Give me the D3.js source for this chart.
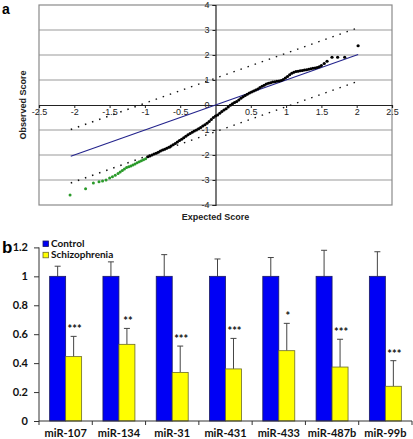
<!DOCTYPE html>
<html><head><meta charset="utf-8">
<script src="https://cdn.jsdelivr.net/npm/d3@7"></script>
<style>html,body{margin:0;padding:0;background:#fff;}svg{display:block;}</style>
</head><body>
<script>
// ---------- Panel a data (Q-Q plot) ----------
const qqGreenX = [-2.06,-1.84,-1.73,-1.65,-1.60,-1.55,-1.50,-1.46,-1.42,-1.38,-1.35,-1.32,-1.29,-1.26,-1.23,-1.20,-1.17,-1.14,-1.11,-1.08,-1.05,-1.02,-0.99];
const qqGreenY = [-3.60,-3.35,-3.12,-3.07,-3.04,-3.00,-2.92,-2.87,-2.81,-2.74,-2.68,-2.62,-2.56,-2.50,-2.47,-2.44,-2.40,-2.36,-2.31,-2.27,-2.23,-2.19,-2.15];
const qqBlackX = [-0.96,-0.93,-0.90,-0.87,-0.84,-0.81,-0.78,-0.75,-0.72,-0.69,-0.66,-0.63,-0.60,-0.57,-0.54,-0.51,-0.48,-0.45,-0.42,-0.39,-0.36,-0.33,-0.30,-0.27,-0.24,-0.21,-0.18,-0.15,-0.12,-0.09,-0.06,-0.03,0.00,0.03,0.06,0.09,0.12,0.15,0.18,0.21,0.24,0.27,0.30,0.33,0.36,0.39,0.42,0.45,0.48,0.51,0.54,0.57,0.60,0.63,0.66,0.69,0.72,0.75,0.78,0.81,0.84,0.87,0.90,0.93,0.96,0.99,1.02,1.05,1.08,1.11,1.14,1.17,1.20,1.23,1.26,1.29,1.32,1.35,1.38,1.41,1.44,1.47,1.50,1.54,1.58,1.65,1.73,1.83,2.02];
const qqBlackY = [-2.07,-2.04,-2.00,-1.96,-1.93,-1.89,-1.84,-1.80,-1.77,-1.73,-1.69,-1.64,-1.59,-1.54,-1.48,-1.42,-1.37,-1.31,-1.25,-1.19,-1.14,-1.09,-1.04,-1.00,-0.95,-0.90,-0.84,-0.79,-0.73,-0.66,-0.58,-0.50,-0.44,-0.40,-0.33,-0.26,-0.20,-0.15,-0.08,-0.01,0.05,0.10,0.14,0.20,0.27,0.33,0.38,0.43,0.48,0.52,0.56,0.60,0.64,0.70,0.75,0.79,0.84,0.87,0.89,0.92,0.93,0.95,0.96,0.98,1.02,1.08,1.14,1.21,1.27,1.31,1.34,1.35,1.37,1.38,1.40,1.41,1.43,1.45,1.47,1.48,1.50,1.53,1.58,1.66,1.75,1.91,1.91,1.91,2.37];
const refLineX = [-2.05, 2.02];          // identity line endpoints
const bandOffset = 1.07;                 // dotted confidence lines y = x ± offset
const bandX = [-2.05, 2.0];
const xTicksA = [-2.5,-2,-1.5,-1,-0.5,0.5,1,1.5,2,2.5];
const xTickLabelsA = ["-2.5","-2","-1.5","-1","-0.5","0.5","1","1.5","2","2.5"];
const yTicksA = [4,3,2,1,0,-1,-2,-3,-4];
const yTickLabelsA = ["4","3","2","1","0","-1","-2","-3","-4"];

// ---------- Panel b data ----------
const categories = ["miR-107","miR-134","miR-31","miR-431","miR-433","miR-487b","miR-99b"];
const seriesNames = ["Control","Schizophrenia"];
const controlVals = [1,1,1,1,1,1,1];
const controlErrTop = [1.07,1.10,1.15,1.12,1.13,1.18,1.17];
const schizVals = [0.445,0.53,0.336,0.36,0.486,0.373,0.24];
const schizErrTop = [0.585,0.64,0.518,0.571,0.675,0.565,0.417];
const sigLabels = ["***","**","***","***","*","***","***"];
const yTicksB = [0,0.2,0.4,0.6,0.8,1,1.2];
const yTickLabelsB = ["0","0.2","0.4","0.6","0.8","1","1.2"];

const W = 413, H = 439;
const svg = d3.select("body").append("svg").attr("width", W).attr("height", H);

// ================= Panel a =================
const fa = "'Liberation Sans', Arial, sans-serif";
const xA = d3.scaleLinear().domain([-2.5,2.5]).range([39,392]);
const yA = d3.scaleLinear().domain([-4,4]).range([205,5]);
const ga = svg.append("g");

// gridlines
ga.selectAll("line.grid").data(yTicksA.filter(v=>v!==0 && Math.abs(v)!==4)).enter().append("line")
  .attr("x1", xA(-2.5)).attr("x2", xA(2.5))
  .attr("y1", d=>yA(d)).attr("y2", d=>yA(d))
  .attr("stroke", "#9a9a9a").attr("stroke-width", 1.2);
// frame
ga.append("rect").attr("x", xA(-2.5)).attr("y", yA(4))
  .attr("width", xA(2.5)-xA(-2.5)).attr("height", yA(-4)-yA(4))
  .attr("fill","none").attr("stroke","#8a8a8a").attr("stroke-width",1.2);

// axes through origin
const axX = ga.append("g").attr("transform", `translate(0,${yA(0)})`)
  .call(d3.axisBottom(xA).tickValues(xTicksA).tickSize(3).tickFormat((d,i)=>xTickLabelsA[i]));
axX.select(".domain").attr("stroke","#222").attr("stroke-width",1.2);
axX.selectAll(".tick line").attr("stroke","#222");
axX.selectAll("text").attr("font-family", fa).attr("font-size", 9).attr("fill","#222").attr("dy","0.4em");

const axY = ga.append("g").attr("transform", `translate(${xA(0)},0)`)
  .call(d3.axisLeft(yA).tickValues(yTicksA).tickSize(3).tickFormat((d,i)=>yTickLabelsA[i]));
axY.select(".domain").attr("stroke","#222").attr("stroke-width",1.2);
axY.selectAll(".tick line").attr("stroke","#222");
axY.selectAll("text").attr("font-family", fa).attr("font-size", 9).attr("fill","#222");

// dotted band lines
[bandOffset, -bandOffset].forEach(off=>{
  ga.append("line")
    .attr("x1", xA(bandX[0])).attr("y1", yA(bandX[0]+off))
    .attr("x2", xA(bandX[1])).attr("y2", yA(bandX[1]+off))
    .attr("stroke","#111").attr("stroke-width",1.4).attr("stroke-dasharray","1.5,6");
});
// identity line
ga.append("line")
  .attr("x1", xA(refLineX[0])).attr("y1", yA(refLineX[0]))
  .attr("x2", xA(refLineX[1])).attr("y2", yA(refLineX[1]))
  .attr("stroke","#23238c").attr("stroke-width",1.1);

// points
ga.selectAll("circle.g").data(qqGreenX.map((x,i)=>[x,qqGreenY[i]])).enter().append("circle")
  .attr("cx", d=>xA(d[0])).attr("cy", d=>yA(d[1])).attr("r",1.5).attr("fill","#2a9a2a");
ga.selectAll("circle.b").data(qqBlackX.map((x,i)=>[x,qqBlackY[i]])).enter().append("circle")
  .attr("cx", d=>xA(d[0])).attr("cy", d=>yA(d[1])).attr("r",1.6).attr("fill","#000");

// axis titles
ga.append("text").attr("x", xA(0)).attr("y", 220).attr("text-anchor","middle")
  .attr("font-family", fa).attr("font-size", 9).attr("font-weight","bold").attr("fill","#222").text("Expected Score");
ga.append("text").attr("transform", `translate(26,${yA(0)}) rotate(-90)`).attr("text-anchor","middle")
  .attr("font-family", fa).attr("font-size", 9).attr("font-weight","bold").attr("fill","#222").text("Observed Score");
svg.append("text").attr("x",2).attr("y",14).attr("font-family",fa).attr("font-size",14).attr("font-weight","bold").text("a");

// ================= Panel b =================
const fb = "Lato, 'Open Sans', sans-serif";
const x0 = d3.scaleBand().domain(categories).range([39,412]).paddingInner(0.4).paddingOuter(0.2);
const x1 = d3.scaleBand().domain(seriesNames).range([0, x0.bandwidth()]);
const yB = d3.scaleLinear().domain([0,1.2]).range([421,247.4]);
const gb = svg.append("g");
const colors = {Control:"#0000f5", Schizophrenia:"#ffff00"};
const strokes = {Control:"#1a1a60", Schizophrenia:"#6b6b2a"};

const rows = categories.map((c,i)=>({c, vals:[
  {s:"Control", v:controlVals[i], e:controlErrTop[i]},
  {s:"Schizophrenia", v:schizVals[i], e:schizErrTop[i]}], sig:sigLabels[i], se:schizErrTop[i]}));

// y axis
const axYB = gb.append("g").attr("transform", `translate(${x0.range()[0]},0)`)
  .call(d3.axisLeft(yB).tickValues(yTicksB).tickSize(5).tickPadding(6).tickFormat((d,i)=>yTickLabelsB[i]));
axYB.select(".domain").attr("stroke","#333").attr("d", `M0,${yB(1.2)}V${yB(0)}`);
axYB.selectAll(".tick line").attr("stroke","#333");
axYB.selectAll("text").attr("font-family", fb).attr("font-size", 11).attr("font-weight","bold").attr("fill","#111");

// error bars (drawn under bars so only top part shows)
const grp = gb.selectAll("g.grp").data(rows).enter().append("g").attr("transform", d=>`translate(${x0(d.c)},0)`);
grp.selectAll("g.err").data(d=>d.vals).enter().append("g").each(function(d){
  const g = d3.select(this), cx = x1(d.s)+x1.bandwidth()/2;
  g.append("line").attr("x1",cx).attr("x2",cx).attr("y1",yB(d.v)).attr("y2",yB(d.e)).attr("stroke","#444").attr("stroke-width",1);
  g.append("line").attr("x1",cx-3).attr("x2",cx+3).attr("y1",yB(d.e)).attr("y2",yB(d.e)).attr("stroke","#444").attr("stroke-width",1);
});
grp.selectAll("rect").data(d=>d.vals).enter().append("rect")
  .attr("x", d=>x1(d.s)).attr("width", x1.bandwidth())
  .attr("y", d=>yB(d.v)).attr("height", d=>yB(0)-yB(d.v))
  .attr("fill", d=>colors[d.s]).attr("stroke", d=>strokes[d.s]).attr("stroke-width",0.8);
grp.append("text").attr("x", x1("Schizophrenia")+x1.bandwidth()/2+1).attr("y", d=>yB(d.se)-3)
  .attr("text-anchor","middle").attr("font-family", fb).attr("font-size", 11).attr("font-weight","bold").attr("fill","#111")
  .text(d=>d.sig);

// x axis
gb.append("line").attr("x1", x0.range()[0]).attr("x2", x0.range()[1]).attr("y1", yB(0)).attr("y2", yB(0)).attr("stroke","#333");
const bounds = categories.map(c=>x0(c)-x0.step()*x0.paddingInner()/2).concat([x0.range()[1]]);
gb.selectAll("line.xt").data(bounds).enter().append("line")
  .attr("x1", d=>d).attr("x2", d=>d).attr("y1", yB(0)).attr("y2", yB(0)+4).attr("stroke","#333");
gb.selectAll("text.cat").data(categories).enter().append("text")
  .attr("x", d=>x0(d)+x0.bandwidth()/2).attr("y", 437).attr("text-anchor","middle")
  .attr("font-family", fb).attr("font-size", 11).attr("font-weight","bold").attr("fill","#111").text(d=>d);

// legend
const lg = gb.append("g").attr("transform","translate(43,241)");
seriesNames.forEach((s,i)=>{
  lg.append("rect").attr("x",0).attr("y", i*11.3).attr("width",5.5).attr("height",5.5)
    .attr("fill", colors[s]).attr("stroke", strokes[s]).attr("stroke-width",0.8);
  lg.append("text").attr("x",8).attr("y", i*11.3+6).attr("font-family", fb).attr("font-size",10)
    .attr("font-weight","bold").attr("fill","#111").text(s);
});
svg.append("text").attr("x",2).attr("y",253).attr("font-family",fa).attr("font-size",17).attr("font-weight","bold").text("b");
</script>
</body></html>
